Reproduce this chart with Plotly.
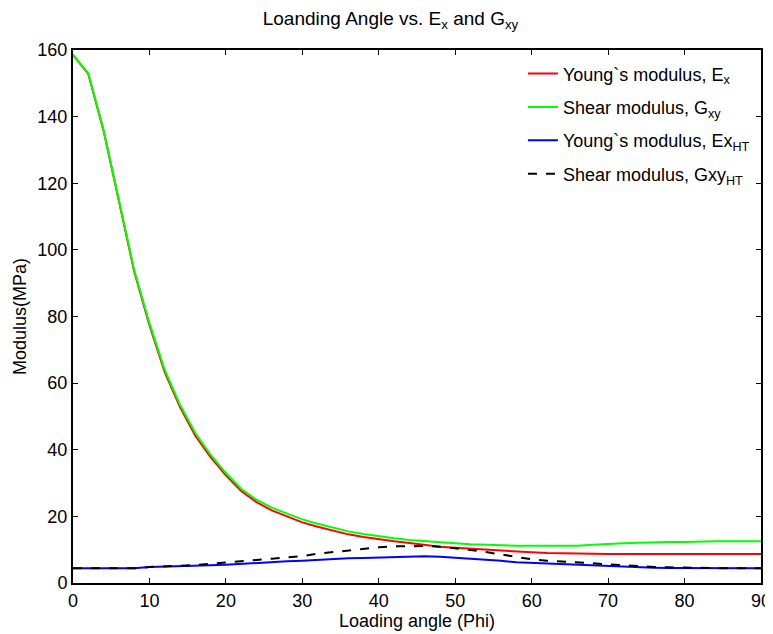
import plotly.graph_objects as go

# loading angle (deg)
phi = [0, 2, 4, 6, 8, 10, 12, 14, 16, 18, 20, 22, 24, 26, 28, 30, 32, 34, 36, 38,
       40, 42, 44, 46, 48, 50, 52, 54, 56, 58, 60, 62, 64, 66, 68, 70, 72, 74, 76, 78,
       80, 82, 84, 86, 88, 90]

# moduli (MPa)
ex = [158.5, 152.8, 135.8, 114.7, 93.6, 77.4, 63.3, 52.8, 44.2, 37.8, 32.3, 27.6, 24.3, 21.8,
      19.9, 18.2, 16.9, 15.7, 14.6, 13.8, 13.1, 12.5, 12.0, 11.4, 10.9, 10.6, 10.3, 9.9, 9.6,
      9.4, 9.2, 9.0, 9.0, 8.9, 8.8, 8.7, 8.7, 8.7, 8.7, 8.7, 8.7, 8.7, 8.7, 8.7, 8.7, 8.7]
gxy = [158.5, 153.0, 136.0, 115.0, 94.0, 78.0, 64.0, 53.5, 45.0, 38.5, 33.0, 28.3, 25.0, 22.6,
       20.8, 19.1, 17.8, 16.6, 15.5, 14.7, 14.0, 13.4, 12.9, 12.5, 12.3, 11.9, 11.6, 11.4, 11.2,
       11.2, 11.2, 11.2, 11.2, 11.2, 11.5, 11.8, 11.9, 12.1, 12.3, 12.3, 12.3, 12.5, 12.5, 12.5,
       12.5, 12.5]
ex_ht = [4.4, 4.4, 4.4, 4.4, 4.4, 4.8, 4.9, 4.9, 5.1, 5.3, 5.5, 5.8, 6.0, 6.3, 6.5, 6.7, 7.0,
         7.2, 7.4, 7.5, 7.6, 7.8, 8.0, 8.0, 7.9, 7.6, 7.4, 7.0, 6.7, 6.2, 6.0, 5.9, 5.8, 5.6,
         5.3, 5.1, 4.9, 4.8, 4.6, 4.5, 4.5, 4.4, 4.4, 4.4, 4.4, 4.4]
gxy_ht = [4.4, 4.4, 4.4, 4.4, 4.4, 4.8, 5.0, 5.1, 5.4, 5.8, 6.1, 6.5, 6.9, 7.3, 7.6, 8.1, 8.8,
          9.3, 9.9, 10.4, 10.7, 11.0, 11.1, 11.1, 10.9, 10.5, 9.9, 9.3, 8.6, 7.7, 7.1, 6.7, 6.5,
          6.2, 5.9, 5.6, 5.3, 5.0, 4.8, 4.7, 4.6, 4.4, 4.4, 4.4, 4.4, 4.4]

FONT = "Liberation Sans, Arial, sans-serif"

fig = go.Figure()
fig.add_trace(go.Scatter(x=phi, y=ex, mode="lines", name="Young`s modulus, E<sub>x</sub>",
                         legendgroup="a", line=dict(color="#ff0000", width=2)))
fig.add_trace(go.Scatter(x=phi, y=gxy, mode="lines", name="Shear modulus, G<sub>xy</sub>",
                         legendgroup="b", line=dict(color="#00ff00", width=2)))
fig.add_trace(go.Scatter(x=phi, y=ex_ht, mode="lines", name="Young`s modulus, Ex<sub>HT</sub>",
                         legendgroup="c", line=dict(color="#0000ff", width=2)))
fig.add_trace(go.Scatter(x=phi, y=gxy_ht, mode="lines", name="Shear modulus, Gxy<sub>HT</sub>",
                         legendgroup="d", line=dict(color="#000000", width=2, dash="dash")))

axis_style = dict(showline=True, linecolor="black", linewidth=2, mirror="ticks",
                  ticks="inside", ticklen=5, tickwidth=1, tickcolor="black",
                  showgrid=False, zeroline=False, automargin=False,
                  tickfont=dict(family=FONT, size=18, color="black"))

# page body has an 8px margin, so the figure is sized/offset to compensate
fig.update_layout(
    width=765, height=626,
    margin=dict(l=65, r=12, t=42, b=51),
    paper_bgcolor="white", plot_bgcolor="white",
    font=dict(family=FONT, size=18, color="black"),
    title=dict(text="Loanding Angle vs. E<sub>x</sub> and G<sub>xy</sub>",
               x=0.5, xanchor="center", y=0.984, yanchor="middle",
               font=dict(family=FONT, size=19, color="black")),
    xaxis=dict(range=[0, 90], dtick=10,
               title=dict(text="Loading angle (Phi)", standoff=2,
                          font=dict(family=FONT, size=18)), **axis_style),
    yaxis=dict(range=[0, 160], dtick=20,
               title=dict(text="Modulus(MPa)", standoff=6,
                          font=dict(family=FONT, size=18)), **axis_style),
    legend=dict(x=0.654, y=0.99, xanchor="left", yanchor="top",
                bgcolor="rgba(255,255,255,0)", borderwidth=0, tracegroupgap=7,
                font=dict(family=FONT, size=18, color="black")),
)

fig.write_html("out.html")
